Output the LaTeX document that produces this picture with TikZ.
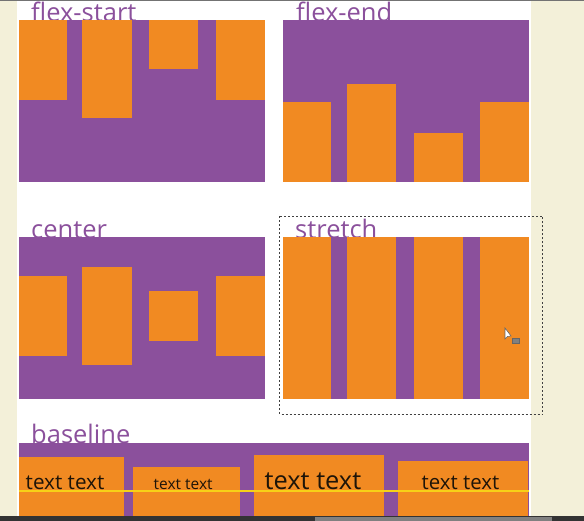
\documentclass[tikz,border=0pt]{standalone}
\usepackage{fontspec}
\setmainfont{Open Sans}
\definecolor{flexpurple}{HTML}{8B509C}
\definecolor{flexorange}{HTML}{F18A22}
\definecolor{pagecream}{HTML}{F3F0D9}
\definecolor{linegold}{HTML}{F7D117}
\definecolor{sampleink}{HTML}{1E1408}
\begin{document}
\begin{tikzpicture}[x=1pt, y=-1pt]
  \tikzstyle{container}=[fill=flexpurple]
  \tikzstyle{item}=[fill=flexorange]
  \tikzstyle{title}=[anchor=base west, inner sep=0pt, text=flexpurple, font=\fontsize{25.5}{30}\selectfont]
  \tikzstyle{sample}=[anchor=base west, inner sep=0pt, text=sampleink]
  % backdrop
  \fill[pagecream] (0,0) rectangle (584,521);
  \useasboundingbox (0,0) rectangle (584,521);
  \fill[white] (17,1) rectangle (531,516);
  \fill[black!55] (0,0) rectangle (584,1.5);
  \fill[black!80] (0,516) rectangle (584,521);
  \fill[black!50] (315,517) rectangle (552,521);
  % titles
  \node[title] (start label) at (31,22) {flex-start};
  \node[title] (end label) at (296,22) {flex-end};
  \node[title] (center label) at (31,239) {center};
  \node[title] (stretch label) at (295,239) {stretch};
  \node[title] (baseline label) at (31,443) {baseline};
  % flex-start
  \fill[container] (18.5,20) rectangle (265,182);
  \fill[item] (18.5,20) rectangle (67,100);
  \fill[item] (82,20) rectangle (132,118);
  \fill[item] (149,20) rectangle (198,69);
  \fill[item] (216,20) rectangle (265,100);
  % flex-end
  \fill[container] (283,20) rectangle (529,182);
  \fill[item] (283,102) rectangle (331,182);
  \fill[item] (347,84) rectangle (396,182);
  \fill[item] (414,133) rectangle (463,182);
  \fill[item] (480,102) rectangle (529,182);
  % center
  \fill[container] (18.5,237) rectangle (265,399);
  \fill[item] (18.5,276) rectangle (67,356);
  \fill[item] (82,267) rectangle (132,365);
  \fill[item] (149,291) rectangle (198,341);
  \fill[item] (216,276) rectangle (265,356);
  % stretch
  \fill[container] (283,237) rectangle (529,399);
  \fill[item] (283,237) rectangle (331,399);
  \fill[item] (347,237) rectangle (396,399);
  \fill[item] (414,237) rectangle (463,399);
  \fill[item] (480,237) rectangle (529,399);
  \draw[black!75, line width=0.8pt, dash pattern=on 2pt off 2pt] (279.5,216.5) rectangle (542.5,414.5);
  % cursor
  \draw[black!60, fill=white, line width=0.6pt] (505,328) -- (505,339) -- (507.5,336.5) -- (511,336) -- cycle;
  \draw[black!60, fill=black!50, line width=0.5pt] (512,338.5) rectangle (519,343.5);
  % baseline
  \fill[container] (18.5,443) rectangle (529,516);
  \fill[item] (18.5,457) rectangle (124,516);
  \fill[item] (133,467) rectangle (240,516);
  \fill[item] (254,455) rectangle (384,516);
  \fill[item] (398,461) rectangle (528,516);
  \node[sample, font=\fontsize{20.7}{24}\selectfont] (text one) at (25.5,489.5) {text text};
  \node[sample, font=\fontsize{15.5}{18}\selectfont] (text two) at (153.5,489.5) {text text};
  \node[sample, font=\fontsize{25.4}{30}\selectfont] (text three) at (264.5,489.5) {text text};
  \node[sample, font=\fontsize{20.4}{24}\selectfont] (text four) at (421.5,489.5) {text text};
  \draw[linegold, line width=1.2pt] (18.5,491) -- (529,491);
\end{tikzpicture}
\end{document}
